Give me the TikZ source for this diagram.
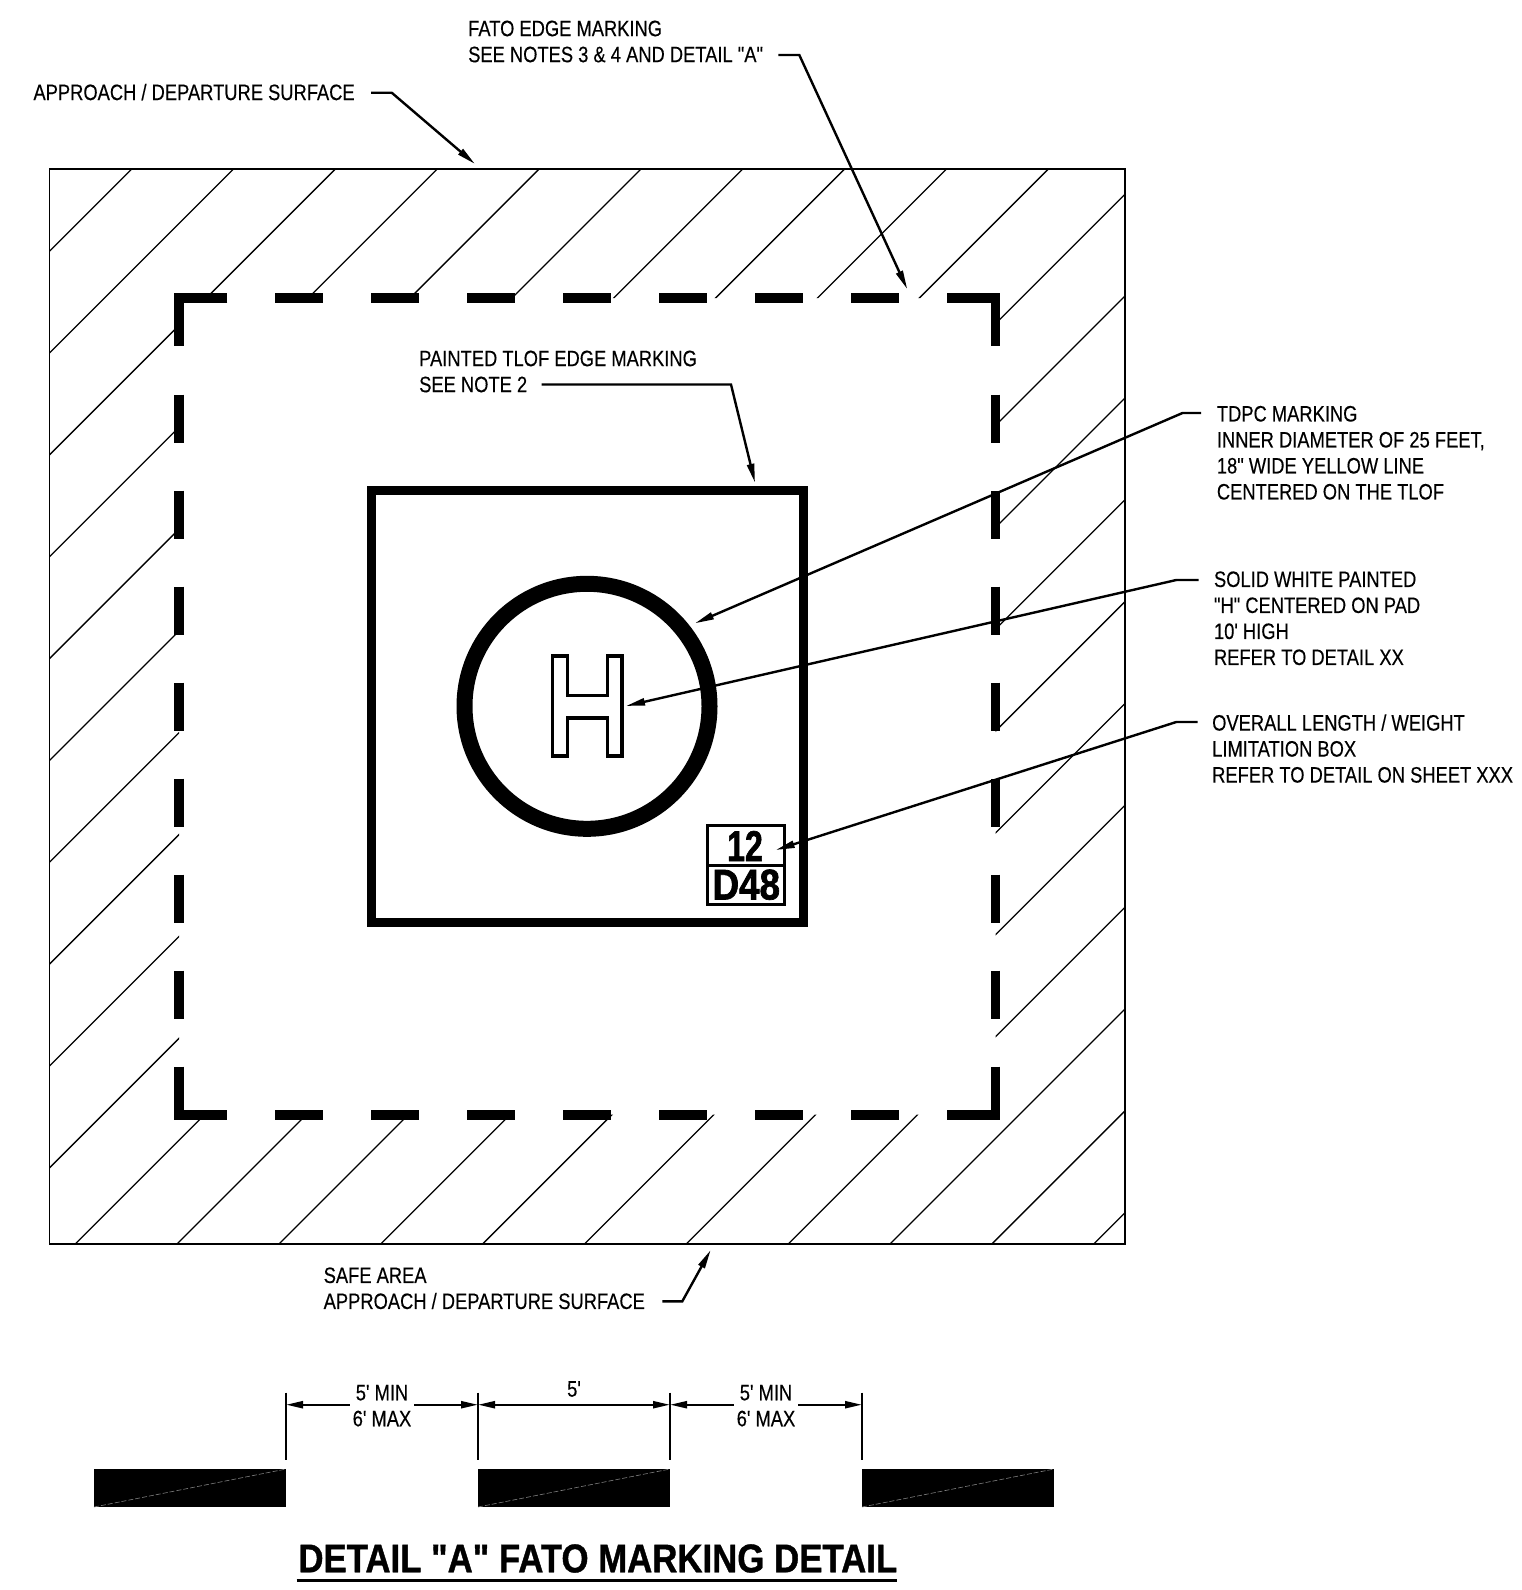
\documentclass[tikz,border=0pt]{standalone}
\usepackage{fontspec}
\newfontfamily\marktextfont[FakeStretch=0.822,FakeBold=0.3]{Liberation Sans}
\newfontfamily\titlefont[FakeStretch=0.87,FakeBold=1]{Liberation Sans}
\newfontfamily\boxfont[FakeStretch=0.83,FakeBold=1.5]{Liberation Sans}
\usetikzlibrary{arrows.meta}

\tikzset{
	marktext/.style={font=\marktextfont\fontsize{22.3}{26}\selectfont, inner sep=0pt, align=left, anchor=north west, yshift=1.3pt},
	hatchline/.style={line width=1.3pt},
	edgeline/.style={line width=1.6pt},
	fatodash/.style={line width=9.6pt},
	leader/.style={line width=2.4pt, -{Triangle[length=19pt,width=7pt]}},
	dimline/.style={line width=2.2pt, {Triangle[length=17pt,width=7pt]}-{Triangle[length=17pt,width=7pt]}},
	dimtext/.style={font=\marktextfont\fontsize{22.3}{26}\selectfont, align=center, inner sep=0pt, yshift=-1pt},
	extline/.style={line width=2.2pt},
	seam/.style={gray, line width=.6pt, dash pattern=on 5pt off 2pt},
	boxtext/.style={font=\boxfont\bfseries\fontsize{43}{43}\selectfont, inner sep=0pt},
}

\begin{document}
\begin{tikzpicture}[x=1pt,y=-1pt]
	\useasboundingbox[fill=white] (0,0) rectangle (1521,1590);
	% Hatching of the surface outside the FATO
	\begin{scope}[even odd rule]
		\clip (49.5,169) rectangle (1125,1244) (179,298) rectangle (995.5,1114.7);
		\foreach \h in {300.7,402.55,...,2340}
		\draw[hatchline] ({\h-169},169) -- (49.5,{\h-49.5});
	\end{scope}
	\draw[edgeline] (49.5,169) rectangle (1125,1244);
	% FATO edge marking
	\draw[fatodash] (227.3,298) -- (179,298) -- (179,346);
	\draw[fatodash] (947.3,298) -- (995.5,298) -- (995.5,346);
	\draw[fatodash] (179,1066.6) -- (179,1114.7) -- (227.3,1114.7);
	\draw[fatodash] (995.5,1066.6) -- (995.5,1114.7) -- (947.3,1114.7);
	\foreach \x in {275.3,371.3,...,851.3} {
		\draw[fatodash] (\x,298) -- ({\x+48},298);
		\draw[fatodash] (\x,1114.7) -- ({\x+48},1114.7);
	}
	\foreach \y in {394.5,490.5,...,970.5} {
		\draw[fatodash] (179,\y) -- (179,{\y+48});
		\draw[fatodash] (995.5,\y) -- (995.5,{\y+48});
	}
	% TLOF, TDPC circle and H
	\draw[line width=9.6pt] (371.3,490.3) rectangle (803.3,922.5);
	\draw[line width=16pt] (587,706.3) circle (122.5);
	\draw[line width=3.6pt] (552.5,656) -- (567.5,656) -- (567.5,695.3) -- (607.5,695.3) -- (607.5,656) -- (622,656)
		-- (622,756) -- (607.5,756) -- (607.5,718) -- (567.5,718) -- (567.5,756) -- (552.5,756) -- cycle;
	% Length and weight box
	\draw[line width=3pt] (707,825.6) rectangle (784.7,904);
	\draw[line width=3pt] (707,865) -- (784.7,865);
	\node[boxtext] (boxlength) at (745,846) {\scalebox{.9}[1]{12}};
	\node[boxtext] (boxweight) at (746.3,884.7) {\scalebox{1.03}[1]{D48}};
	% Labels
	\node[marktext] (fatolabel) at (468,21.7) {FATO EDGE MARKING\\SEE NOTES 3 \& 4 AND DETAIL "A"};
	\node[marktext] (approachlabel) at (33.3,85) {APPROACH / DEPARTURE SURFACE};
	\node[marktext] (tloflabel) at (419,351.7) {PAINTED TLOF EDGE MARKING\\SEE NOTE 2};
	\node[marktext] (tdpclabel) at (1216.7,407) {TDPC MARKING\\INNER DIAMETER OF 25 FEET,\\18" WIDE YELLOW LINE\\CENTERED ON THE TLOF};
	\node[marktext] (hlabel) at (1213.8,572.5) {SOLID WHITE PAINTED\\"H" CENTERED ON PAD\\10' HIGH\\REFER TO DETAIL XX};
	\node[marktext] (boxlabel) at (1212,715.5) {OVERALL LENGTH / WEIGHT\\LIMITATION BOX\\REFER TO DETAIL ON SHEET XXX};
	\node[marktext] (safelabel) at (323.5,1268.5) {SAFE AREA\\APPROACH / DEPARTURE SURFACE};
	% Leaders
	\coordinate (fatostart) at (778.3,55);
	\coordinate (fatoknee) at (799.3,55);
	\coordinate (fatotip) at (907.3,289.3);
	\coordinate (approachstart) at (371,92.7);
	\coordinate (approachknee) at (391.7,92.7);
	\coordinate (approachtip) at (475,164);
	\coordinate (tlofstart) at (541.5,384.5);
	\coordinate (tlofknee) at (731,384.5);
	\coordinate (tloftip) at (755,482.7);
	\coordinate (tdpcstart) at (1201,413);
	\coordinate (tdpcknee) at (1182.5,413);
	\coordinate (tdpctip) at (695,623.3);
	\coordinate (hstart) at (1198.6,580);
	\coordinate (hknee) at (1176.3,580);
	\coordinate (htip) at (626,706);
	\coordinate (boxstart) at (1197.6,722);
	\coordinate (boxknee) at (1176.3,722);
	\coordinate (boxtip) at (775.7,850);
	\coordinate (safestart) at (662.3,1301.3);
	\coordinate (safeknee) at (682.3,1301.3);
	\coordinate (safetip) at (710.7,1250);
	\foreach \n in {fato,approach,tlof,tdpc,h,box,safe}
	\draw[leader] (\n start) -- (\n knee) -- (\n tip);
	% Detail A
	\foreach \x in {94,478,862} {
		\fill (\x,1469) rectangle ({\x+192},1507);
		\draw[seam] (\x,1507) -- ({\x+192},1469);
	}
	\foreach \x/\n in {286/exta,478/extb,670/extc,862/extd} {
		\coordinate (\n) at (\x,1404.7);
		\draw[extline] (\x,1392.7) -- (\x,1460);
	}
	\draw[dimline] (exta) -- node[dimtext, fill=white, inner xsep=3pt] (mingapa) {5' MIN\\6' MAX} (extb);
	\draw[dimline] (extb) -- (extc);
	\node[dimtext] (barlength) at (574,1388) {5'};
	\draw[dimline] (extc) -- node[dimtext, fill=white, inner xsep=3pt] (mingapb) {5' MIN\\6' MAX} (extd);
	% Title
	\node[font=\titlefont\bfseries\fontsize{40}{40}\selectfont, inner sep=0pt] (detailtitle) at (597.8,1558.5) {DETAIL "A" FATO MARKING DETAIL};
	\draw[line width=3pt] (296.7,1580.7) -- (897.4,1580.7);
\end{tikzpicture}
\end{document}
